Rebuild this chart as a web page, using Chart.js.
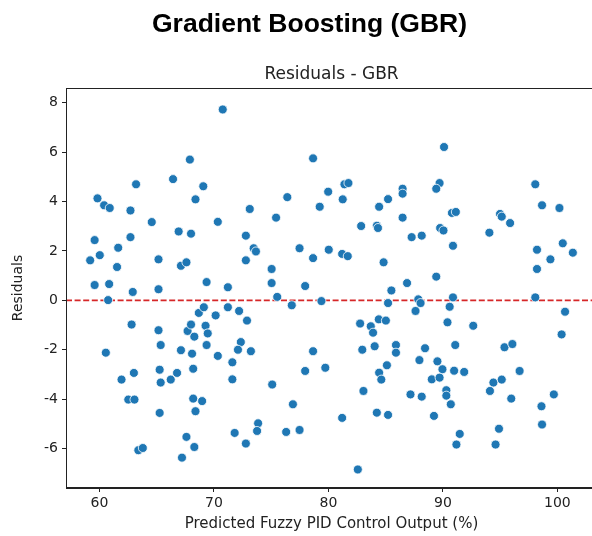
<!DOCTYPE html>
<html>
<head>
<meta charset="utf-8">
<script src="https://cdn.jsdelivr.net/npm/chart.js@4/dist/chart.umd.min.js"></script>
<style>
  html, body { margin: 0; padding: 0; background: #fff; overflow: hidden; }
  /* the source figure was cropped on the right, so the canvas is a bit wider than the window */
  #wrap { width: 610px; height: 536px; }
</style>
</head>
<body>
<div id="wrap"><canvas id="myChart"></canvas></div>
<script>
const predicted = [
  70.77, 67.90, 63.20, 66.43, 69.07, 59.83, 60.41, 60.90, 62.71, 68.39,
  64.57, 70.34, 66.92, 68.00, 59.58, 62.71, 61.64, 59.19, 60.03, 65.16,
  61.54, 67.12, 67.60, 59.58, 60.85, 62.91, 65.16, 69.36, 71.22, 78.66,
  81.40, 81.75, 76.41, 79.98, 81.25, 73.13, 79.24, 84.43, 85.21, 86.48,
  86.48, 75.43, 86.48, 82.86, 84.23, 84.33, 72.79, 73.47, 73.67, 77.48,
  80.03, 81.20, 81.69, 72.79, 78.66, 84.82, 75.04, 75.04, 77.97, 85.50,
  75.53, 86.87, 90.10, 89.71, 89.42, 98.07, 98.66, 100.18, 90.79, 91.13,
  94.99, 95.14, 95.87, 89.76, 90.05, 94.06, 87.27, 88.15, 90.88, 98.22,
  100.47, 99.39, 101.35, 98.22, 89.42, 60.76, 62.81, 60.56, 65.16, 65.35,
  63.01, 61.93, 62.52, 63.06, 65.26, 65.35, 66.23, 66.78, 65.26, 63.40,
  63.79, 67.12, 68.09, 68.19, 67.70, 68.00, 68.29, 68.68, 69.12, 70.15,
  71.22, 69.27, 69.46, 69.36, 70.34, 68.19, 68.97, 68.39, 67.60, 68.29,
  67.21, 71.61, 71.61, 71.81, 72.20, 72.89, 76.80, 79.39, 85.21, 72.35,
  72.10, 73.23, 75.09, 78.66, 77.97, 79.73, 76.90, 73.86, 73.77, 72.79,
  76.31, 77.48, 81.20, 82.57, 82.77, 83.70, 83.90, 84.40, 85.02, 82.96,
  84.04, 85.90, 85.90, 85.11, 84.43, 84.62, 83.06, 84.23, 85.21, 87.85,
  88.05, 90.88, 98.07, 87.61, 90.59, 90.40, 92.65, 100.67, 100.37, 88.44,
  91.08, 87.95, 89.52, 89.96, 90.98, 91.86, 89.03, 89.71, 87.17, 88.15,
  90.30, 90.30, 90.69, 89.22, 91.47, 91.18, 95.38, 96.07, 96.70, 94.41,
  95.14, 94.11, 95.97, 99.69, 98.61, 98.66, 94.90, 94.60
];
const residuals = [
  7.73, 5.70, 4.70, 4.91, 4.62, 4.13, 3.85, 3.74, 3.64, 4.09,
  3.17, 3.18, 2.79, 2.70, 2.44, 2.56, 2.13, 1.62, 1.83, 1.66,
  1.35, 1.40, 1.54, 0.62, 0.66, 0.34, 0.45, 0.74, 0.53, 5.75,
  4.70, 4.75, 4.18, 4.40, 4.09, 3.70, 3.79, 3.79, 4.10, 4.52,
  4.32, 3.35, 3.35, 3.01, 3.02, 2.93, 2.62, 2.11, 1.98, 2.11,
  2.05, 1.88, 1.79, 1.62, 1.71, 1.54, 1.27, 0.70, 0.58, 0.40,
  0.14, 0.70, 6.21, 4.75, 4.52, 4.70, 3.85, 3.74, 3.54, 3.58,
  3.50, 3.39, 3.13, 2.93, 2.83, 2.74, 2.56, 2.62, 2.21, 2.05,
  2.31, 1.66, 1.93, 1.27, 0.96, 0.01, -0.98, -2.12, -1.21, -1.81,
  -2.94, -3.21, -4.02, -4.02, -2.81, -3.33, -3.21, -2.94, -4.56, -6.07,
  -5.98, -2.02, -2.16, -2.77, -1.24, -0.98, -1.47, -0.51, -0.28, -0.61,
  -0.28, -1.03, -1.34, -1.81, -2.25, -3.98, -4.08, -4.49, -5.53, -5.94,
  -6.37, -2.51, -3.20, -5.37, -0.43, -0.82, -0.20, -0.03, -0.11, -1.69,
  -2.0, -2.06, -3.41, -2.06, -2.86, -2.73, -4.21, -4.98, -5.29, -5.80,
  -5.33, -5.25, -4.76, -6.85, -0.94, -1.05, -1.31, -0.77, -0.82, -2.0,
  -1.86, -1.81, -2.12, -2.63, -2.93, -3.21, -3.67, -4.55, -4.64, 0.04,
  -0.11, 0.12, 0.12, -0.43, -0.26, -0.89, -1.03, -0.46, -1.38, -1.94,
  -1.81, -2.42, -2.47, -2.79, -2.85, -2.90, -3.2, -3.13, -3.81, -3.90,
  -3.64, -3.86, -4.21, -4.68, -5.41, -5.84, -1.90, -1.77, -2.86, -3.33,
  -3.21, -3.67, -3.98, -3.81, -4.29, -5.03, -5.20, -5.84
];
const xTickValues = [60, 70, 80, 90, 100];
const yTickValues = [-6, -4, -2, 0, 2, 4, 6, 8];
const figTitle = 'Gradient Boosting (GBR)';
const axesTitle = 'Residuals - GBR';

const points = [];
for (let i = 0; i < predicted.length; i++) {
  points.push({ x: predicted[i], y: residuals[i] });
}

// red dashed zero line, box around the plot and the two titles (like matplotlib)
const zeroLineAndFrame = {
  id: 'zeroLineAndFrame',
  beforeDatasetsDraw(chart) {
    const c = chart.ctx, a = chart.chartArea;
    const y0 = chart.scales.y.getPixelForValue(0);
    c.save();
    c.strokeStyle = '#d62728';
    c.lineWidth = 1.6;
    c.setLineDash([6, 2.6]);
    c.beginPath();
    c.moveTo(a.left, y0);
    c.lineTo(a.right, y0);
    c.stroke();
    c.restore();
  },
  afterDraw(chart) {
    const c = chart.ctx, a = chart.chartArea;
    c.save();
    c.strokeStyle = '#222';
    c.lineWidth = 1;
    c.strokeRect(a.left + 0.5, a.top + 0.5, a.right - a.left - 1, a.bottom - a.top - 1);
    c.textAlign = 'center';
    c.textBaseline = 'middle';
    c.fillStyle = '#000';
    c.font = 'bold 26.5px "Liberation Sans"';
    c.fillText(figTitle, a.left + 243.5, 25);
    c.fillStyle = '#222';
    c.font = '17px "DejaVu Sans"';
    c.fillText(axesTitle, (a.left + a.right) / 2, a.top - 13);
    c.restore();
  }
};

function keepTicks(values) {
  return function(scale) {
    scale.ticks = values.map(v => ({ value: v }));
  };
}

const ctx = document.getElementById('myChart');
new Chart(ctx, {
  type: 'scatter',
  data: {
    datasets: [{
      label: 'Residuals',
      data: points,
      backgroundColor: '#1f77b4',
      borderColor: '#ffffff',
      borderWidth: 0.8,
      pointRadius: 4.5,
      pointHoverRadius: 4.5
    }]
  },
  options: {
    responsive: true,
    maintainAspectRatio: false,
    animation: false,
    layout: { padding: { left: 0, right: 13, top: 88, bottom: 0 } },
    plugins: {
      legend: { display: false },
      tooltip: { enabled: false },
      title: { display: false }
    },
    scales: {
      x: {
        type: 'linear',
        min: 57.08,
        max: 103.46,
        afterBuildTicks: keepTicks(xTickValues),
        afterFit: function(scale) { scale.height = 48; },
        grid: { drawOnChartArea: false, drawTicks: true, tickLength: 4, color: '#222' },
        border: { display: true, color: '#222' },
        ticks: { color: '#222', padding: 3, font: { family: 'DejaVu Sans', size: 14 } },
        title: {
          display: true,
          text: 'Predicted Fuzzy PID Control Output (%)',
          color: '#222',
          font: { family: 'DejaVu Sans', size: 15 },
          padding: { top: 0, bottom: 3 }
        }
      },
      y: {
        type: 'linear',
        min: -7.6,
        max: 8.6,
        afterBuildTicks: keepTicks(yTickValues),
        afterFit: function(scale) { scale.width = 66; },
        grid: { drawOnChartArea: false, drawTicks: true, tickLength: 4, color: '#222' },
        border: { display: true, color: '#222' },
        ticks: { color: '#222', padding: 4, font: { family: 'DejaVu Sans', size: 14 } },
        title: {
          display: true,
          text: 'Residuals',
          color: '#222',
          font: { family: 'DejaVu Sans', size: 14 },
          padding: { top: 10, bottom: 0 }
        }
      }
    }
  },
  plugins: [zeroLineAndFrame]
});
</script>
</body>
</html>
